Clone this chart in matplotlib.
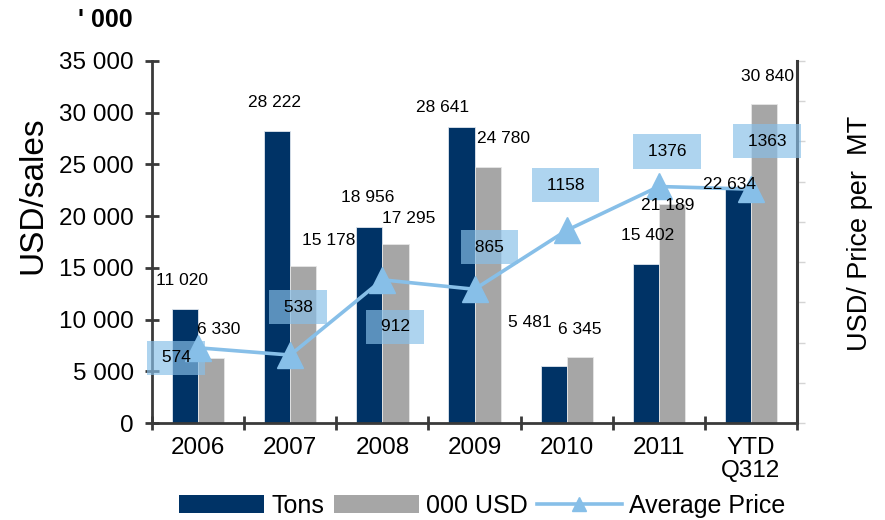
import matplotlib
matplotlib.use("Agg")
import matplotlib.pyplot as plt
from matplotlib.lines import Line2D
from matplotlib.patches import Patch
import numpy as np

plt.rcParams['font.family'] = ['Liberation Sans', 'DejaVu Sans']

categories = ["2006", "2007", "2008", "2009", "2010", "2011", "YTD\nQ312"]
tons = [11020, 28222, 18956, 28641, 5481, 15402, 22634]
usd_000 = [6330, 15178, 17295, 24780, 6345, 21189, 30840]
avg_price = [574, 538, 912, 865, 1158, 1376, 1363]

# label offsets (pixels, x right / y up) -- styling only
tons_off = [(-3, 29), (-3, 29), (-2, 29), (-19, 19), (-24, 44), (2, 28), (-8, 4)]
usd_off = [(7, 28), (25, 26), (13, 26), (16, 28), (0, 28), (-4, -2), (3, 28)]
price_off = [(-22, -10), (8, 48), (13, -47), (15, 42), (-1, 45), (8, 35), (16, 48)]

NAVY = "#003366"
GRAY = "#A6A6A6"
LBLUE = "#87BFE8"
SPINE = "#3a3a3a"

def fmt(v):
    return f"{v:,}".replace(",", " ")

fig = plt.figure(figsize=(8.85, 5.2), dpi=100)
ax = fig.add_axes([0.1718, 0.1865, 0.7288, 0.6962])
x = np.arange(len(categories))
bw = 0.284

b1 = ax.bar(x - bw / 2, tons, bw, color=NAVY, edgecolor="#dfe6ee", linewidth=0.6, zorder=2)
b2 = ax.bar(x + bw / 2, usd_000, bw, color=GRAY, edgecolor="#e6e6e6", linewidth=0.6, zorder=2)

ax.set_xlim(-0.5, len(categories) - 0.5)
ax.set_ylim(0, 35000)
ax.set_yticks(np.arange(0, 35001, 5000))
ax.set_yticklabels([fmt(v) for v in range(0, 35001, 5000)], fontsize=17.5)
ax.set_xticks(x)
ax.set_xticklabels(categories, fontsize=17.5, linespacing=1.05)
ax.set_xticks(np.arange(-0.5, len(categories), 1.0), minor=True)
ax.tick_params(axis='x', which='major', length=0, pad=10)
ax.tick_params(axis='x', which='minor', direction='inout', length=10, width=2, color=SPINE)
ax.tick_params(axis='y', direction='inout', length=10, width=2, color=SPINE, pad=8)
for s in ['top', 'right']:
    ax.spines[s].set_visible(False)
for s in ['left', 'bottom']:
    ax.spines[s].set_color(SPINE)
    ax.spines[s].set_linewidth(2)
ax.set_ylabel("USD/sales", fontsize=24)
ax.yaxis.set_label_coords(-0.16, 0.63)

ax2 = ax.twinx()
ax2.set_ylim(200, 2000)
ax2.set_yticks(np.arange(200, 2001, 200))
ax2.set_yticklabels([])
ax2.tick_params(axis='y', direction='out', length=6, width=1, color="#d4d4d4")
for s in ['top', 'left', 'bottom']:
    ax2.spines[s].set_visible(False)
ax2.spines['right'].set_color(SPINE)
ax2.spines['right'].set_linewidth(2.2)
ax2.set_ylabel("USD/ Price per  MT", fontsize=19.5, rotation=90)
ax2.yaxis.set_label_coords(1.077, 0.525)

ax2.plot(x, avg_price, color=LBLUE, linewidth=2.6, marker='^', markersize=19,
         markeredgecolor=LBLUE, zorder=3)

for i, v in enumerate(avg_price):
    ax2.annotate(f" {v} ", (x[i], v), xytext=price_off[i], textcoords='offset pixels',
                 ha='center', va='center', fontsize=12.5, zorder=5,
                 bbox=dict(boxstyle='square,pad=0.55', facecolor=LBLUE, edgecolor='none', alpha=0.67))

for i, v in enumerate(tons):
    ax2.annotate(fmt(v), (x[i] - bw / 2, v), xycoords=ax.transData, xytext=tons_off[i],
                 textcoords='offset pixels', ha='center', va='center', fontsize=12.5, zorder=6)
for i, v in enumerate(usd_000):
    ax2.annotate(fmt(v), (x[i] + bw / 2, v), xycoords=ax.transData, xytext=usd_off[i],
                 textcoords='offset pixels', ha='center', va='center', fontsize=12.5, zorder=6)

fig.text(0.119, 0.962, "' 000", fontsize=18, fontweight='bold', ha='center', va='center')

handles = [Patch(facecolor=NAVY, edgecolor='none'),
           Patch(facecolor=GRAY, edgecolor='none'),
           Line2D([], [], color=LBLUE, linewidth=2.6, marker='^', markersize=10)]
fig.legend(handles, ["Tons", "000 USD", "Average Price"], loc='center',
           bbox_to_anchor=(0.545, 0.027), ncol=3, frameon=False, fontsize=18,
           handlelength=3.4, handletextpad=0.3, columnspacing=0.35, handleheight=0.7)

fig.savefig("out.png", dpi=100)
